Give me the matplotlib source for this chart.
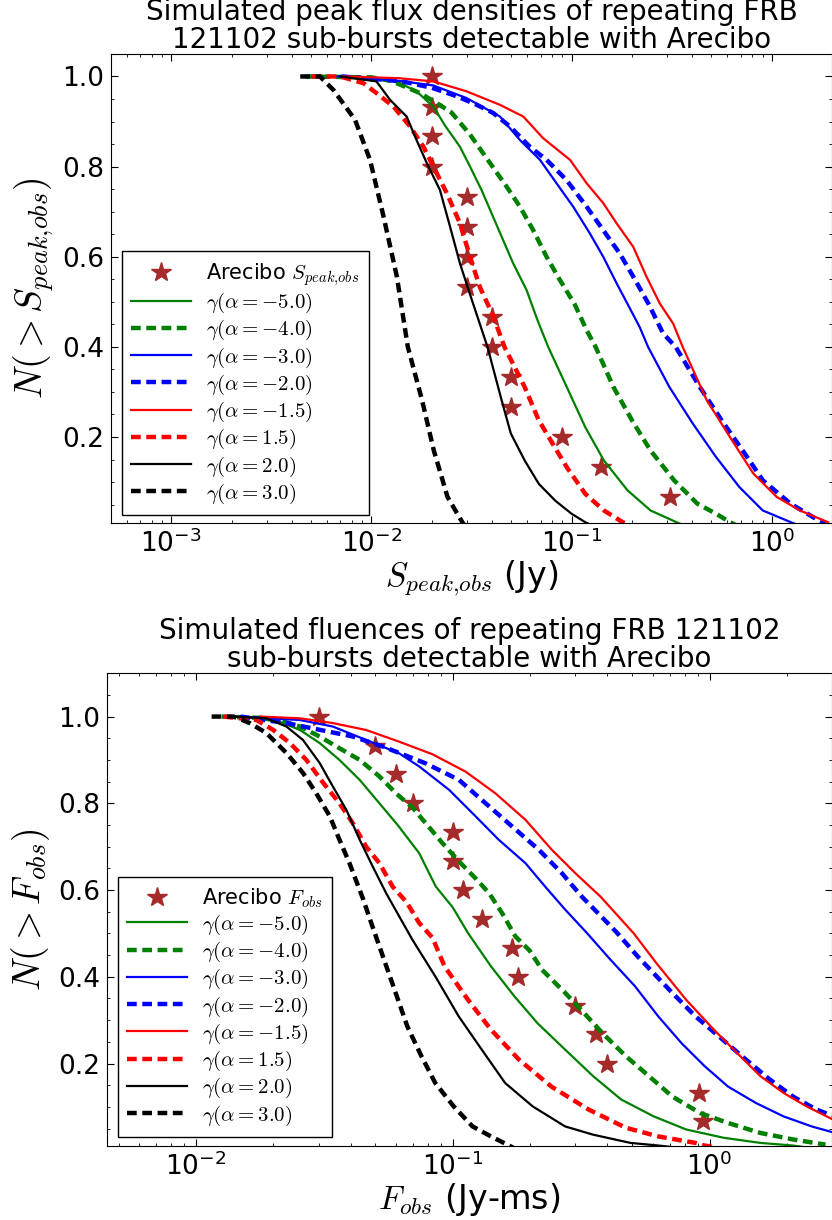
import matplotlib
matplotlib.use('Agg')
import matplotlib.pyplot as plt
from matplotlib.ticker import MultipleLocator, LogLocator, NullFormatter

plt.rcParams['font.family'] = ['DejaVu Sans']
plt.rcParams['mathtext.fontset'] = 'cm'
plt.rcParams['lines.scale_dashes'] = False
plt.rcParams['legend.fancybox'] = False
plt.rcParams['legend.edgecolor'] = 'black'
plt.rcParams['legend.framealpha'] = 1.0

# ---------------- top panel: peak flux densities (Jy) ----------------
s_stars = [0.02, 0.02, 0.02, 0.02, 0.03, 0.03, 0.03, 0.03, 0.04, 0.04, 0.05, 0.05, 0.09, 0.14, 0.31]
n_stars = [1.0, 0.933, 0.867, 0.800, 0.733, 0.667, 0.600, 0.533, 0.467, 0.400, 0.333, 0.267, 0.200, 0.133, 0.067]

s_g5 = [0.00794, 0.0112, 0.0139, 0.0168, 0.0204, 0.0234, 0.0277, 0.0311, 0.0355, 0.0437, 0.0511, 0.0596, 0.0676, 0.0764, 0.0946, 0.117, 0.145, 0.190, 0.248, 0.334, 0.36]
n_g5 = [1.0, 0.995, 0.985, 0.967, 0.933, 0.890, 0.844, 0.800, 0.748, 0.655, 0.585, 0.526, 0.459, 0.400, 0.311, 0.222, 0.148, 0.082, 0.037, 0.011, 0.005]

s_g4 = [0.00468, 0.0100, 0.0126, 0.0175, 0.0212, 0.0251, 0.0310, 0.0391, 0.0473, 0.0552, 0.0643, 0.0750, 0.0875, 0.1035, 0.1189, 0.1318, 0.1618, 0.2004, 0.248, 0.325, 0.425, 0.526, 0.619, 0.66]
n_g4 = [1.0, 0.998, 0.990, 0.963, 0.941, 0.920, 0.872, 0.808, 0.756, 0.711, 0.659, 0.600, 0.548, 0.495, 0.437, 0.400, 0.311, 0.237, 0.170, 0.104, 0.052, 0.030, 0.011, 0.005]

s_b3 = [0.00676, 0.0139, 0.0204, 0.0299, 0.0439, 0.0552, 0.0695, 0.0841, 0.1019, 0.1233, 0.1439, 0.1679, 0.1905, 0.2188, 0.241, 0.308, 0.403, 0.526, 0.689, 0.902, 1.245, 1.35]
n_b3 = [1.0, 0.990, 0.980, 0.952, 0.911, 0.859, 0.815, 0.763, 0.711, 0.652, 0.600, 0.541, 0.495, 0.444, 0.400, 0.311, 0.230, 0.156, 0.089, 0.037, 0.011, 0.005]

s_b2 = [0.00708, 0.0139, 0.0200, 0.0267, 0.0336, 0.0406, 0.0492, 0.0619, 0.0750, 0.0944, 0.1189, 0.1439, 0.1742, 0.2032, 0.2427, 0.2864, 0.331, 0.437, 0.562, 0.716, 0.902, 1.242, 1.714, 1.85]
n_b2 = [1.0, 0.990, 0.975, 0.956, 0.937, 0.919, 0.889, 0.844, 0.815, 0.770, 0.711, 0.659, 0.607, 0.556, 0.495, 0.430, 0.400, 0.311, 0.237, 0.170, 0.104, 0.052, 0.015, 0.008]

s_r15n = [0.00759, 0.0139, 0.0204, 0.0299, 0.0439, 0.0574, 0.0721, 0.0982, 0.1189, 0.1439, 0.1679, 0.2032, 0.2366, 0.2761, 0.3214, 0.359, 0.473, 0.618, 0.809, 1.059, 1.384, 1.91]
n_r15n = [1.0, 0.996, 0.989, 0.967, 0.937, 0.911, 0.863, 0.815, 0.763, 0.719, 0.674, 0.622, 0.556, 0.496, 0.452, 0.400, 0.282, 0.200, 0.119, 0.067, 0.037, 0.011]

s_r15 = [0.00501, 0.00697, 0.00912, 0.0106, 0.0129, 0.0156, 0.0182, 0.0204, 0.0238, 0.0277, 0.0311, 0.0348, 0.0407, 0.0462, 0.0583, 0.0686, 0.0805, 0.0946, 0.117, 0.145, 0.180, 0.195]
n_r15 = [1.0, 1.0, 0.985, 0.963, 0.933, 0.889, 0.844, 0.800, 0.741, 0.674, 0.600, 0.533, 0.467, 0.400, 0.311, 0.237, 0.185, 0.133, 0.074, 0.037, 0.011, 0.005]

s_k2 = [0.00697, 0.0106, 0.0124, 0.0150, 0.0168, 0.0189, 0.0220, 0.0247, 0.0277, 0.0316, 0.0380, 0.0447, 0.0497, 0.0583, 0.0686, 0.0828, 0.0998, 0.117, 0.125]
n_k2 = [1.0, 0.989, 0.948, 0.911, 0.859, 0.808, 0.748, 0.667, 0.585, 0.507, 0.400, 0.282, 0.208, 0.148, 0.096, 0.059, 0.030, 0.011, 0.005]

s_k3 = [0.00441, 0.00553, 0.00646, 0.00828, 0.00984, 0.0115, 0.0134, 0.0152, 0.0179, 0.0205, 0.0240, 0.0275, 0.0290]
n_k3 = [1.0, 1.0, 0.970, 0.904, 0.815, 0.689, 0.556, 0.400, 0.282, 0.170, 0.067, 0.022, 0.005]

# ---------------- bottom panel: fluences (Jy-ms) ----------------
f_stars = [0.03, 0.05, 0.06, 0.07, 0.10, 0.10, 0.11, 0.13, 0.17, 0.18, 0.30, 0.36, 0.40, 0.91, 0.94]

f_g5 = [0.0149, 0.0212, 0.0254, 0.0303, 0.0362, 0.0434, 0.0518, 0.0610, 0.0740, 0.0859, 0.100, 0.1146, 0.1409, 0.1738, 0.2138, 0.274, 0.352, 0.453, 0.607, 0.811, 1.132, 1.578, 2.113, 2.3]
m_g5 = [1.0, 0.988, 0.969, 0.939, 0.900, 0.854, 0.800, 0.750, 0.685, 0.608, 0.560, 0.501, 0.424, 0.355, 0.293, 0.232, 0.171, 0.117, 0.078, 0.048, 0.029, 0.017, 0.011, 0.008]

f_g4 = [0.0126, 0.0200, 0.0254, 0.0303, 0.0362, 0.0434, 0.0518, 0.0601, 0.0697, 0.0785, 0.0912, 0.1057, 0.1227, 0.1384, 0.1556, 0.1754, 0.1995, 0.2228, 0.274, 0.324, 0.383, 0.472, 0.581, 0.716, 0.918, 1.180, 1.578, 2.113, 2.83]
m_g4 = [1.0, 0.996, 0.977, 0.954, 0.927, 0.900, 0.862, 0.823, 0.790, 0.754, 0.708, 0.666, 0.627, 0.593, 0.547, 0.493, 0.460, 0.416, 0.363, 0.317, 0.270, 0.217, 0.171, 0.124, 0.086, 0.063, 0.040, 0.025, 0.013]

f_b3 = [0.0149, 0.0254, 0.0341, 0.0460, 0.0619, 0.0740, 0.0968, 0.1227, 0.151, 0.1919, 0.229, 0.274, 0.333, 0.412, 0.513, 0.631, 0.778, 0.957, 1.180, 1.517, 1.945, 2.50, 3.0]
m_b3 = [1.0, 0.992, 0.977, 0.946, 0.915, 0.885, 0.831, 0.770, 0.716, 0.662, 0.608, 0.555, 0.501, 0.439, 0.378, 0.309, 0.247, 0.194, 0.147, 0.109, 0.078, 0.055, 0.042]

f_b2 = [0.0149, 0.0225, 0.0408, 0.0533, 0.0619, 0.0785, 0.1057, 0.1343, 0.170, 0.2163, 0.266, 0.318, 0.389, 0.437, 0.525, 0.716, 0.881, 1.086, 1.337, 1.718, 2.113, 2.606, 3.0]
m_b2 = [1.0, 0.985, 0.954, 0.931, 0.916, 0.892, 0.854, 0.800, 0.747, 0.693, 0.639, 0.585, 0.532, 0.501, 0.447, 0.363, 0.309, 0.263, 0.217, 0.163, 0.124, 0.094, 0.080]

f_r15n = [0.0178, 0.0254, 0.0341, 0.0460, 0.0619, 0.0834, 0.1122, 0.1466, 0.1919, 0.243, 0.300, 0.376, 0.442, 0.507, 0.620, 0.811, 1.040, 1.282, 1.578, 1.945, 2.393, 3.0]
m_r15n = [1.0, 0.996, 0.985, 0.969, 0.942, 0.913, 0.873, 0.823, 0.762, 0.693, 0.639, 0.585, 0.539, 0.500, 0.432, 0.347, 0.278, 0.224, 0.171, 0.132, 0.101, 0.072]

f_r15 = [0.0128, 0.0172, 0.0200, 0.0232, 0.0269, 0.0313, 0.0362, 0.0408, 0.0460, 0.0518, 0.0583, 0.0661, 0.0740, 0.0834, 0.0929, 0.1146, 0.1409, 0.1811, 0.242, 0.338, 0.472, 0.631, 0.881, 0.957, 1.02]
m_r15 = [1.0, 0.992, 0.969, 0.939, 0.900, 0.847, 0.800, 0.754, 0.700, 0.662, 0.608, 0.572, 0.524, 0.490, 0.424, 0.347, 0.278, 0.209, 0.147, 0.094, 0.052, 0.032, 0.017, 0.011, 0.008]

f_k2 = [0.0140, 0.0188, 0.0225, 0.0261, 0.0303, 0.0341, 0.0385, 0.0434, 0.0488, 0.0550, 0.0619, 0.0697, 0.0855, 0.1054, 0.1297, 0.160, 0.205, 0.274, 0.352, 0.492, 0.631, 0.70]
m_k2 = [1.0, 0.996, 0.977, 0.946, 0.893, 0.839, 0.785, 0.716, 0.654, 0.593, 0.539, 0.485, 0.401, 0.309, 0.232, 0.155, 0.101, 0.055, 0.036, 0.017, 0.011, 0.008]

f_k3 = [0.0115, 0.0140, 0.0162, 0.0188, 0.0225, 0.0261, 0.0294, 0.0332, 0.0362, 0.0396, 0.0447, 0.0484, 0.0518, 0.0587, 0.0665, 0.0755, 0.0855, 0.1009, 0.1194, 0.1409, 0.163, 0.172]
m_k3 = [1.0, 1.0, 0.985, 0.962, 0.916, 0.870, 0.823, 0.770, 0.716, 0.662, 0.580, 0.520, 0.470, 0.378, 0.286, 0.217, 0.155, 0.101, 0.055, 0.032, 0.013, 0.006]

alpha_labels = ['-5.0', '-4.0', '-3.0', '-2.0', '-1.5', '1.5', '2.0', '3.0']
colors = ['g', 'g', 'b', 'b', 'r', 'r', 'k', 'k']
dashed = [False, True, False, True, False, True, False, True]

top_curves = [(s_g5, n_g5), (s_g4, n_g4), (s_b3, n_b3), (s_b2, n_b2),
              (s_r15n, n_r15n), (s_r15, n_r15), (s_k2, n_k2), (s_k3, n_k3)]
bot_curves = [(f_g5, m_g5), (f_g4, m_g4), (f_b3, m_b3), (f_b2, m_b2),
              (f_r15n, m_r15n), (f_r15, m_r15), (f_k2, m_k2), (f_k3, m_k3)]


def draw_panel(ax, xs, ys, curves, star_label, xlim, ylim, title, xlabel, ylabel, legend_anchor):
    ax.plot(xs, ys, '*', color='brown', mec='brown', ms=15, label=star_label)
    for (x, y), a, c, d in zip(curves, alpha_labels, colors, dashed):
        lab = r'$\gamma(\alpha=%s)$' % a
        if d:
            ax.plot(x, y, color=c, lw=3.2, dashes=(7, 4), label=lab)
        else:
            ax.plot(x, y, color=c, lw=1.6, label=lab)
    ax.set_xscale('log')
    ax.set_xlim(*xlim)
    ax.set_ylim(*ylim)
    ax.yaxis.set_major_locator(MultipleLocator(0.2))
    ax.yaxis.set_minor_locator(MultipleLocator(0.05))
    ax.xaxis.set_minor_locator(LogLocator(subs=range(2, 10)))
    ax.xaxis.set_minor_formatter(NullFormatter())
    ax.tick_params(which='both', direction='in', top=True, right=True, labelsize=19)
    ax.tick_params(which='major', length=5)
    ax.tick_params(which='minor', length=2.5)
    ax.tick_params(axis='x', which='major', pad=5)
    ax.tick_params(axis='y', which='major', pad=5)
    ax.set_title(title, fontsize=20, pad=2, linespacing=1.0)
    ax.set_xlabel(xlabel, fontsize=24, labelpad=0)
    ax.set_ylabel(ylabel, fontsize=27, labelpad=4)
    ax.legend(loc='lower left', bbox_to_anchor=legend_anchor, borderaxespad=0,
              numpoints=1, fontsize=15, handlelength=2.85, handletextpad=0.75,
              labelspacing=0.15, borderpad=0.45)


fig = plt.figure(figsize=(8.32, 12.2), dpi=100)
ax1 = fig.add_axes([0.1334, 0.5716, 0.8666, 0.3842])
ax2 = fig.add_axes([0.1286, 0.0607, 0.8714, 0.3875])

draw_panel(ax1, s_stars, n_stars, top_curves, r'Arecibo $S_{peak{,}obs}$', (5e-4, 2.0), (0.01, 1.05),
           'Simulated peak flux densities of repeating FRB\n121102 sub-bursts detectable with Arecibo',
           r'$S_{peak{,}obs}$ (Jy)', r'$N({>}S_{peak{,}obs})$', (0.015, 0.016))
draw_panel(ax2, f_stars, n_stars, bot_curves, r'Arecibo $F_{obs}$', (4.5e-3, 3.0), (0.01, 1.1),
           'Simulated fluences of repeating FRB 121102\nsub-bursts detectable with Arecibo',
           r'$F_{obs}$ (Jy-ms)', r'$N({>}F_{obs})$', (0.015, 0.019))

fig.savefig('out.png', dpi=100)
